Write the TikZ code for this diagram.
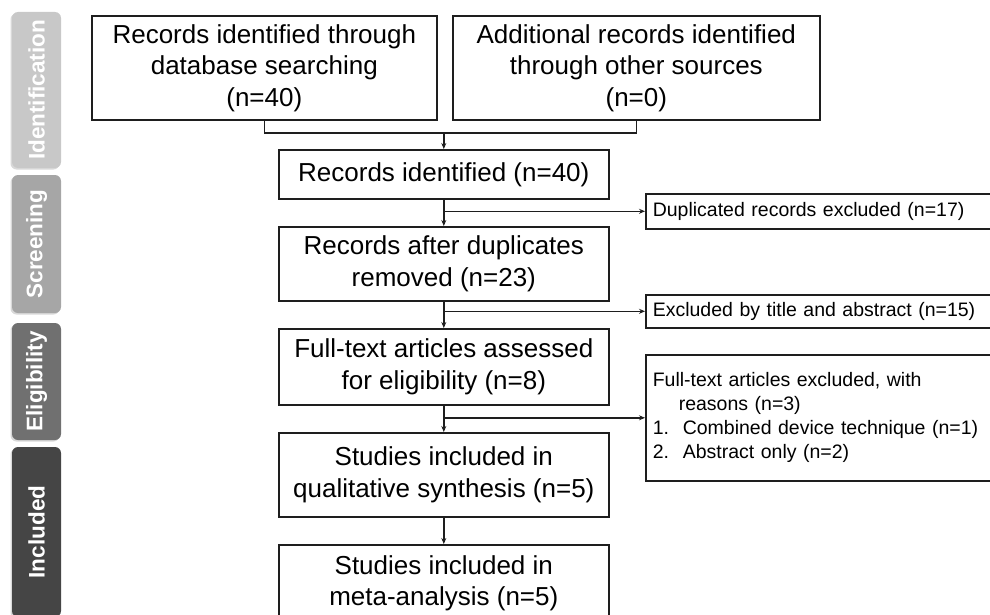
\documentclass[tikz,border=0pt]{standalone}
\usepackage{fontspec}
\setmainfont{Liberation Sans}
\usetikzlibrary{arrows.meta,shadows,calc}
\definecolor{idgray}{HTML}{C8C8C8}
\definecolor{scgray}{HTML}{A6A6A6}
\definecolor{elgray}{HTML}{707070}
\definecolor{ingray}{HTML}{454545}
\definecolor{edge}{HTML}{1E1E1E}

\begin{document}
\begin{tikzpicture}[x=1pt,y=-1pt,
    box/.style={draw=edge,line width=1.6pt,inner sep=0pt,align=center,anchor=north west,
      minimum width=330pt,font=\fontsize{26}{31.5}\selectfont},
    side/.style={draw=edge,line width=1.6pt,inner xsep=7pt,inner ysep=0pt,anchor=north west,
      text width=341pt,align=left,font=\fontsize{19.5}{24}\selectfont},
    tab/.style={rounded corners=6pt,rotate=90,text=white,inner sep=0pt,minimum height=49pt,
      font=\fontsize{22.5}{27}\selectfont\bfseries,
      drop shadow={shadow xshift=-1.5pt,shadow yshift=-1.5pt,opacity=0.3}},
    link/.style={draw=edge,line width=1.5pt},
    arr/.style={link,-{Stealth[length=6pt,width=5pt]}}]
    \path[use as bounding box,clip] (0,0) rectangle (990,615);
    % phase tabs
    \node[tab,fill=idgray,minimum width=156pt] (tid) at (36.5,90) {Identification};
    \node[tab,fill=scgray,minimum width=138pt] (tsc) at (36.5,244) {Screening};
    \node[tab,fill=elgray,minimum width=117pt] (tel) at (36.5,381.5) {Eligibility};
    \node[tab,fill=ingray,minimum width=170pt] (tin) at (36.5,532) {Included};
    % main column
    \node[box,minimum width=345pt,minimum height=104pt] (db) at (91,15) {Records identified through\\database searching\\(n=40)};
    \node[box,minimum width=367pt,minimum height=104pt] (other) at (452,15) {Additional records identified\\through other sources\\(n=0)};
    \node[box,minimum height=49pt] (ident) at (278,149) {Records identified (n=40)};
    \node[box,minimum height=74pt] (dedup) at (278,226) {Records after duplicates\\removed (n=23)};
    \node[box,minimum height=76pt] (elig) at (278,328) {Full-text articles assessed\\for eligibility (n=8)};
    \node[box,minimum height=84pt] (qual) at (278,432) {Studies included in\\qualitative synthesis (n=5)};
    \node[box,minimum height=77pt] (meta) at (278,544) {Studies included in\\meta-analysis (n=5)};
    % exclusions
    \node[side,minimum height=35pt] (dup) at (645,193) {Duplicated records excluded (n=17)};
    \node[side,minimum height=33pt] (title) at (645,294) {Excluded by title and abstract (n=15)};
    \node[side,minimum height=126pt] (fte) at (645,354) {Full-text articles excluded, with\\
      \hspace*{26pt}reasons (n=3)\\
      \makebox[30pt][l]{1.}Combined device technique (n=1)\\
      \makebox[30pt][l]{2.}Abstract only (n=2)};
    % connectors
    \coordinate (join) at ($(ident.north)+(0,-16)$);
    \draw[link] (db.south) |- (join) -| (other.south);
    \draw[arr] (join) -- (ident.north);
    \draw[arr] (ident.south) -- (dedup.north);
    \draw[arr] (ident.south |- dup.west) -- (dup.west);
    \draw[arr] (dedup.south) -- (elig.north);
    \draw[arr] (dedup.south |- title.west) -- (title.west);
    \draw[arr] (elig.south) -- (qual.north);
    \draw[arr] (elig.south |- fte.west) -- (fte.west);
    \draw[arr] (qual.south) -- (meta.north);
\end{tikzpicture}
\end{document}
